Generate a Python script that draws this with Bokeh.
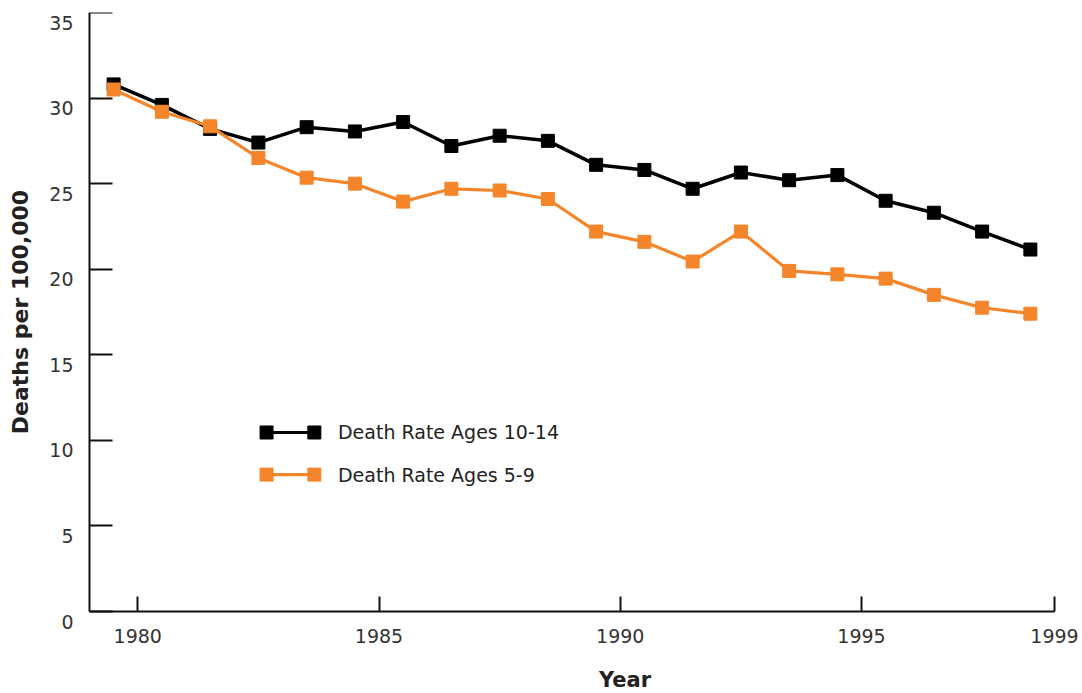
import math
from bokeh.plotting import figure
from bokeh.models import ColumnDataSource, FixedTicker, Range1d
from bokeh.transform import dodge
from bokeh.core.properties import value
from bokeh.embed import file_html
from bokeh.resources import INLINE

YEARS = [1980, 1981, 1982, 1983, 1984, 1985, 1986, 1987, 1988, 1989,
         1990, 1991, 1992, 1993, 1994, 1995, 1996, 1997, 1998, 1999]
RATE_10_14 = [30.8, 29.6, 28.2, 27.4, 28.3, 28.05, 28.6, 27.2, 27.8, 27.5,
              26.1, 25.8, 24.7, 25.65, 25.2, 25.5, 24.0, 23.3, 22.2, 21.15]
RATE_5_9 = [30.5, 29.2, 28.35, 26.5, 25.35, 25.0, 23.95, 24.7, 24.6, 24.1,
            22.2, 21.6, 20.45, 22.2, 19.9, 19.7, 19.45, 18.5, 17.75, 17.4]
X_TICKS = [1980, 1985, 1990, 1995, 1999]
Y_TICKS = [0, 5, 10, 15, 20, 25, 30, 35]
Y_TICK_LABELS = ["0", "5", "10", "15", "20", "25", "30", "35"]
SERIES_NAMES = ["Death Rate Ages 10-14", "Death Rate Ages 5-9"]
X_TITLE = "Year"
Y_TITLE = "Deaths per 100,000"
COLORS = ["#000000", "#F5852A"]

FONT = "DejaVu Sans"
X_START, X_END = 1979, 1999
Y_START, Y_END = 0, 35

# layout (pixels)
W, H = 1082, 693
TOP, AXIS_BOTTOM, AXIS_LEFT, AXIS_RIGHT = 12, 82, 89, 28
DATA_H = H - TOP - AXIS_BOTTOM
DATA_W = W - AXIS_LEFT - AXIS_RIGHT
Y_LABEL_GAP_PX = 16           # y tick labels: gap left of the axis ...
Y_LABEL_DROP_PX = 10          # ... and drop below their ticks
Y_TITLE_GAP_PX = 69           # y title centre, left of the axis
X_TITLE_POS = 1990.1          # x title centre (data units) ...
X_TITLE_DROP_PX = 68          # ... and its distance below the x axis

per_px_y = (Y_END - Y_START) / DATA_H
per_px_x = (X_END - X_START) / DATA_W
# the frame fills the canvas (except a top margin); the axes are pinned at
# the data origin, so neither they nor their labels get clipped
x_low = X_START - AXIS_LEFT * per_px_x
x_high = X_END + AXIS_RIGHT * per_px_x
y_low = Y_START - AXIS_BOTTOM * per_px_y

src = ColumnDataSource(dict(year=YEARS, a=RATE_10_14, b=RATE_5_9))

p = figure(width=W, height=H, output_backend="svg", toolbar_location=None,
           x_range=Range1d(x_low, x_high), y_range=Range1d(y_low, Y_END),
           min_border_left=0, min_border_top=TOP, min_border_right=0,
           min_border_bottom=0)
p.outline_line_color = None
p.grid.visible = False
p.background_fill_color = "white"

# data
for col, color, lw in [("a", COLORS[0], 3.5), ("b", COLORS[1], 3.2)]:
    xs = dodge("year", -0.5, range=p.x_range)
    p.line(x=xs, y=col, source=src, line_color=color, line_width=lw)
    p.scatter(x=xs, y=col, source=src, marker="square", size=13,
              fill_color=color, line_color=color)

# styling
for ax in (p.xaxis[0], p.yaxis[0]):
    ax.axis_line_color = "#111111"
    ax.axis_line_width = 2
    ax.major_tick_line_color = "#111111"
    ax.major_tick_line_width = 2
    ax.major_tick_out = 0
    ax.minor_tick_out = 0
    ax.major_label_text_font = FONT
    ax.major_label_text_font_size = "19px"
    ax.major_label_text_color = "#333333"

xax = p.xaxis[0]
xax.fixed_location = Y_START
xax.bounds = (X_START, X_END)
xax.ticker = FixedTicker(ticks=X_TICKS)
xax.minor_tick_line_color = None
xax.major_tick_in = 15
xax.major_label_standoff = 17

# y axis: line and inward ticks; labels drawn as text below
yax = p.yaxis[0]
yax.fixed_location = X_START
yax.bounds = (Y_START, Y_END)
yax.ticker = FixedTicker(ticks=[], minor_ticks=Y_TICKS)
yax.minor_tick_in = 23
yax.minor_tick_line_color = "#111111"
yax.minor_tick_line_width = 2
yax.major_label_standoff = 0

p.text(x=[X_START] * len(Y_TICKS), y=Y_TICKS, text=Y_TICK_LABELS,
       x_offset=-Y_LABEL_GAP_PX, y_offset=Y_LABEL_DROP_PX,
       text_align="right", text_baseline="middle", text_font=value(FONT),
       text_font_size="19px", text_color="#333333")

# axis titles
p.text(x=[X_TITLE_POS], y=[Y_START], text=[X_TITLE], y_offset=X_TITLE_DROP_PX,
       text_align="center", text_baseline="middle", text_font=value(FONT),
       text_font_style="bold", text_font_size="21px", text_color="#222222")
p.text(x=[X_START], y=[(Y_START + Y_END) / 2], text=[Y_TITLE],
       x_offset=-Y_TITLE_GAP_PX, angle=math.pi / 2,
       text_align="center", text_baseline="middle", text_font=value(FONT),
       text_font_style="bold", text_font_size="22px", text_color="#222222")

# manual legend (placed in data space of the frame)
LEG_X0, LEG_X1, LEG_TX = 1982.67, 1983.66, 1984.15
LEG_Y = [10.46, 8.0]
for name, color, ly in zip(SERIES_NAMES, COLORS, LEG_Y):
    p.line(x=[LEG_X0, LEG_X1], y=[ly, ly], line_color=color, line_width=3.2)
    p.scatter(x=[LEG_X0, LEG_X1], y=[ly, ly], marker="square", size=13,
              fill_color=color, line_color=color)
    p.text(x=[LEG_TX], y=[ly], text=[name], text_font=value(FONT),
           text_font_size="19px", text_baseline="middle", text_align="left",
           text_color="#222222")

open("out.html", "w").write(file_html(p, INLINE))
